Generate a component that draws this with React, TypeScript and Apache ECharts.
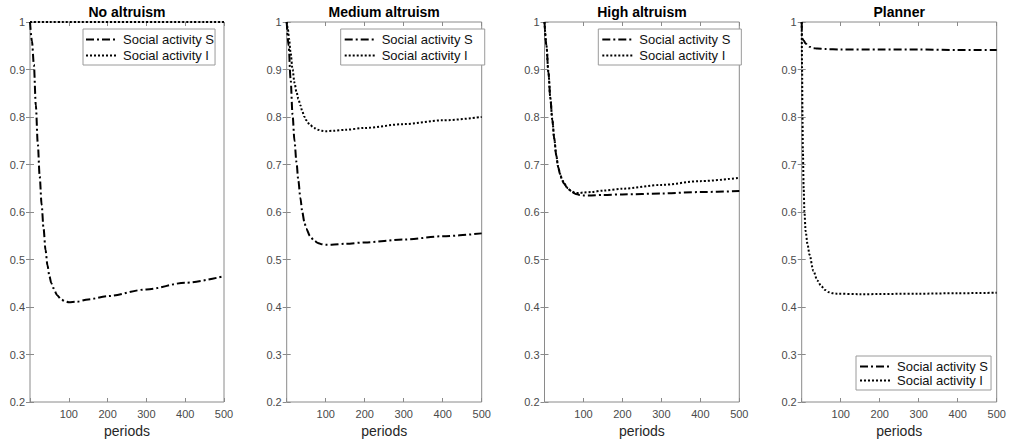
import React, { useEffect, useRef } from 'react';
import * as echarts from 'echarts';

const panelTitles = ['No altruism', 'Medium altruism', 'High altruism', 'Planner'];
const seriesNames = ['Social activity S', 'Social activity I'];
const xAxisLabel = 'periods';

// Panel 1: No altruism
const noAltPeriodsS = [0, 5, 10, 15, 20, 25, 30, 35, 40, 45, 50, 55, 60, 70, 80, 90, 100, 120, 150, 200, 300, 400, 500];
const noAltS = [1.0, 0.96, 0.91, 0.825, 0.745, 0.675, 0.615, 0.565, 0.52, 0.488, 0.465, 0.45, 0.44, 0.425, 0.416, 0.412, 0.41, 0.411, 0.416, 0.423, 0.437, 0.451, 0.465];
const noAltPeriodsI = [0, 500];
const noAltI = [1.0, 1.0];

// Panel 2: Medium altruism
const medPeriodsS = [0, 5, 10, 15, 20, 25, 30, 35, 40, 45, 50, 60, 70, 80, 90, 100, 115, 150, 200, 300, 400, 500];
const medS = [1.0, 0.95, 0.88, 0.805, 0.75, 0.705, 0.665, 0.63, 0.6, 0.58, 0.565, 0.549, 0.54, 0.535, 0.532, 0.531, 0.531, 0.533, 0.536, 0.542, 0.549, 0.555];
const medPeriodsI = [0, 3, 6, 10, 15, 20, 25, 30, 35, 40, 45, 50, 60, 70, 80, 90, 100, 120, 150, 200, 300, 400, 500];
const medI = [1.0, 0.985, 0.965, 0.935, 0.9, 0.872, 0.853, 0.838, 0.825, 0.812, 0.801, 0.793, 0.783, 0.777, 0.773, 0.771, 0.77, 0.771, 0.773, 0.777, 0.785, 0.793, 0.8];

// Panel 3: High altruism
const highPeriodsS = [0, 5, 10, 15, 20, 25, 30, 35, 40, 45, 50, 60, 70, 80, 90, 100, 120, 150, 200, 300, 400, 500];
const highS = [1.0, 0.95, 0.895, 0.84, 0.795, 0.755, 0.72, 0.695, 0.68, 0.668, 0.66, 0.649, 0.642, 0.638, 0.636, 0.635, 0.635, 0.636, 0.637, 0.639, 0.642, 0.644];
const highPeriodsI = [0, 5, 10, 15, 20, 25, 30, 35, 40, 45, 50, 60, 70, 80, 90, 100, 120, 150, 200, 300, 400, 500];
const highI = [1.0, 0.95, 0.895, 0.84, 0.795, 0.755, 0.72, 0.695, 0.68, 0.668, 0.66, 0.65, 0.643, 0.64, 0.64, 0.641, 0.642, 0.645, 0.649, 0.657, 0.665, 0.672];

// Panel 4: Planner
const planPeriodsS = [0, 1, 5, 10, 15, 20, 30, 40, 60, 100, 200, 300, 400, 500];
const planS = [1.0, 0.966, 0.961, 0.955, 0.951, 0.948, 0.945, 0.944, 0.943, 0.942, 0.942, 0.942, 0.941, 0.941];
const planPeriodsI = [0, 1, 2, 3, 5, 7, 10, 15, 20, 30, 40, 50, 60, 70, 80, 90, 150, 300, 400, 500];
const planI = [1.0, 0.9, 0.8, 0.73, 0.65, 0.6, 0.56, 0.532, 0.51, 0.476, 0.456, 0.444, 0.436, 0.431, 0.429, 0.428, 0.427, 0.428, 0.429, 0.43];

const panelData = [
  { sx: noAltPeriodsS, s: noAltS, ix: noAltPeriodsI, i: noAltI },
  { sx: medPeriodsS, s: medS, ix: medPeriodsI, i: medI },
  { sx: highPeriodsS, s: highS, ix: highPeriodsI, i: highI },
  { sx: planPeriodsS, s: planS, ix: planPeriodsI, i: planI },
];

const FONT = '"Liberation Sans", Arial, Helvetica, sans-serif';
const AXIS_COLOR = '#8a8a8a';
const LABEL_COLOR = '#4a4a4a';

const layout = [
  { left: 30, width: 194, legend: { left: 83, top: 29, padding: [4, 1, 3, 2], itemGap: 3 } },
  { left: 286.7, width: 195, legend: { left: 340.7, top: 29, padding: [4, 12, 3, 3], itemGap: 3 } },
  { left: 544.5, width: 194.8, legend: { left: 598.3, top: 29, padding: [4, 11, 3, 3], itemGap: 3 } },
  { left: 801.7, width: 195, legend: { left: 856, top: 356, padding: [4, 3, 3, 3], itemGap: 1 } },
];
const GRID_TOP = 22;
const GRID_HEIGHT = 380;

const zip = (xs: number[], ys: number[]) => xs.map((x, k) => [x, ys[k]]);

export default function App() {
  const ref = useRef<HTMLDivElement>(null);
  useEffect(() => {
    if (!ref.current) return;
    const chart = echarts.init(ref.current, undefined, { renderer: 'svg' });

    const grid: any[] = [];
    const xAxis: any[] = [];
    const yAxis: any[] = [];
    const series: any[] = [];
    const legend: any[] = [];
    const graphic: any[] = [];

    const tick = { show: true, inside: true, length: 4, lineStyle: { color: AXIS_COLOR, width: 1 } };

    layout.forEach((L, p) => {
      grid.push({
        left: L.left, top: GRID_TOP, width: L.width, height: GRID_HEIGHT,
        show: true, borderColor: AXIS_COLOR, borderWidth: 1, backgroundColor: 'transparent',
      });
      xAxis.push({
        gridIndex: p, type: 'value', position: 'bottom', min: 0, max: 500, interval: 100,
        axisLine: { show: false }, splitLine: { show: false }, axisTick: tick,
        axisLabel: {
          color: LABEL_COLOR, fontSize: 11, fontFamily: FONT, margin: 6,
          formatter: (v: number) => (v === 0 ? '' : String(v)),
        },
        name: xAxisLabel, nameLocation: 'middle', nameGap: 18,
        nameTextStyle: { fontSize: 14, fontFamily: FONT, color: '#262626' },
      });
      xAxis.push({
        gridIndex: p, type: 'value', position: 'top', min: 0, max: 500, interval: 100,
        axisLine: { show: false }, splitLine: { show: false }, axisTick: tick,
        axisLabel: { show: false },
      });
      yAxis.push({
        gridIndex: p, type: 'value', position: 'left', min: 0.2, max: 1, interval: 0.1,
        axisLine: { show: false }, splitLine: { show: false }, axisTick: tick,
        axisLabel: { color: LABEL_COLOR, fontSize: 11, fontFamily: FONT, margin: 5 },
      });
      yAxis.push({
        gridIndex: p, type: 'value', position: 'right', min: 0.2, max: 1, interval: 0.1,
        axisLine: { show: false }, splitLine: { show: false }, axisTick: tick,
        axisLabel: { show: false },
      });

      const d = panelData[p];
      series.push({
        name: seriesNames[0], type: 'line', xAxisIndex: p * 2, yAxisIndex: p * 2,
        data: zip(d.sx, d.s), symbol: 'none', showSymbol: false, clip: false,
        smooth: 0.3, smoothMonotone: 'x',
        itemStyle: { color: '#000' },
        lineStyle: { color: '#000', width: 2, type: [8, 3, 2, 3] }, z: 3,
      });
      series.push({
        name: seriesNames[1], type: 'line', xAxisIndex: p * 2, yAxisIndex: p * 2,
        data: zip(d.ix, d.i), symbol: 'none', showSymbol: false, clip: false,
        smooth: 0.3, smoothMonotone: 'x',
        itemStyle: { color: '#000' },
        lineStyle: { color: '#000', width: 2, type: [2, 2] }, z: 3,
      });

      legend.push({
        data: seriesNames, orient: 'vertical', left: L.legend.left, top: L.legend.top,
        padding: L.legend.padding, itemGap: L.legend.itemGap, itemWidth: 32, itemHeight: 14,
        borderColor: '#9a9a9a', borderWidth: 1, backgroundColor: '#ffffff', borderRadius: 0,
        selectedMode: false, z: 10,
        itemStyle: { opacity: 0 },
        lineStyle: { color: '#000', width: 2 },
        textStyle: { fontSize: 13, fontFamily: FONT, color: '#111' },
      });

      graphic.push({
        type: 'text', x: L.left + L.width / 2, y: 11.5, silent: true,
        style: {
          text: panelTitles[p], fontSize: 14, fontWeight: 'bold', fontFamily: FONT,
          fill: '#000', align: 'center', verticalAlign: 'middle',
        },
      });
    });

    chart.setOption({
      animation: false,
      backgroundColor: '#ffffff',
      textStyle: { fontFamily: FONT },
      grid, xAxis, yAxis, series, legend, graphic,
    });
    return () => chart.dispose();
  }, []);
  return <div ref={ref} style={{ position: 'absolute', left: 0, top: 0, width: 1009, height: 444 }} />;
}
